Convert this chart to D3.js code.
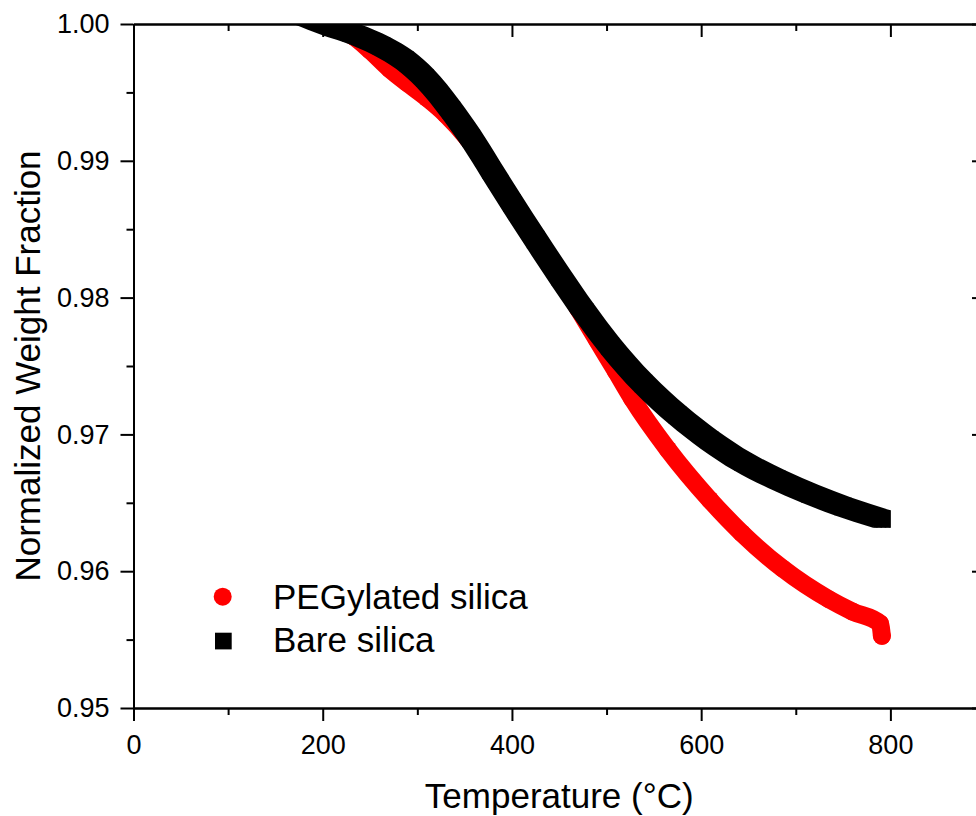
<!DOCTYPE html>
<html>
<head>
<meta charset="utf-8">
<script src="https://cdn.jsdelivr.net/npm/d3@7.9.0/dist/d3.min.js"></script>
<style>
  body { margin: 0; background: #fff; }
  svg { display: block; font-family: "Liberation Sans", Arial, sans-serif; }
  .axis path, .axis line { stroke: #000; stroke-width: 2; }
  .axis text { font-size: 27px; fill: #000; }
</style>
</head>
<body>
<svg id="chart" width="976" height="816"></svg>
<script>
// Temperature (°C) and normalized weight
const tempPeg = [150, 180, 210, 232, 250, 271, 290, 310, 330, 353, 370, 385, 400, 425, 450, 470, 490, 510, 527, 565, 609, 643, 686, 735, 760, 789, 791];
const weightPeg = [1.0012, 1.0006, 0.99985, 0.99912, 0.99808, 0.9967, 0.99565, 0.9946, 0.9934, 0.99164, 0.99008, 0.9886, 0.9869, 0.9842, 0.9815, 0.9792, 0.9769, 0.9746, 0.97262, 0.96888, 0.96523, 0.96278, 0.9602, 0.95795, 0.95705, 0.95618, 0.95528];

const tempBare = [150, 178, 209, 230, 262, 287, 308, 336, 357, 378, 400, 425, 451, 477, 504, 539, 575, 609, 644, 680, 715, 750, 791];
const weightBare = [1.0013, 1.00064, 0.99982, 0.99935, 0.9984, 0.99735, 0.99605, 0.9937, 0.99164, 0.98933, 0.98691, 0.98424, 0.98153, 0.97893, 0.97645, 0.97372, 0.97141, 0.96958, 0.968, 0.96672, 0.96566, 0.96473, 0.96381];

const xMajor = [0, 200, 400, 600, 800];
const xMinor = [100, 300, 500, 700];
const yMajor = [0.95, 0.96, 0.97, 0.98, 0.99, 1.00];
const yMinor = [0.955, 0.965, 0.975, 0.985, 0.995];

const seriesNames = ['PEGylated silica', 'Bare silica'];

const peg = tempPeg.map((t, i) => ({ t, w: weightPeg[i] }));
const bare = tempBare.map((t, i) => ({ t, w: weightBare[i] }));

const svg = d3.select('#chart');

// plot box
const plotLeft = 133.5, plotRight = 985, plotTop = 24, plotBottom = 708;
const x = d3.scaleLinear().domain([0, 900]).range([plotLeft, plotRight]);
const y = d3.scaleLinear().domain([0.95, 1.0]).range([plotBottom, plotTop]);

svg.append('clipPath').attr('id', 'plot-clip')
  .append('rect')
  .attr('x', plotLeft).attr('y', plotTop)
  .attr('width', plotRight - plotLeft).attr('height', plotBottom - plotTop);

const plot = svg.append('g').attr('clip-path', 'url(#plot-clip)');

// 1) PEGylated silica: dense red circles -> thick round line
const markR = 9;
const line = d3.line()
  .x(d => x(d.t))
  .y(d => y(d.w))
  .curve(d3.curveMonotoneX);

plot.append('path')
  .datum(peg)
  .attr('d', line)
  .attr('fill', 'none')
  .attr('stroke', '#ff0000')
  .attr('stroke-width', markR * 2)
  .attr('stroke-linecap', 'round')
  .attr('stroke-linejoin', 'round');

plot.selectAll('circle.peg')
  .data(peg)
  .join('circle')
  .attr('class', 'peg')
  .attr('cx', d => x(d.t))
  .attr('cy', d => y(d.w))
  .attr('r', markR)
  .attr('fill', '#ff0000');

// 2) Bare silica: dense black squares -> square swept along the curve
const half = 8.75;
const band = d3.area()
  .x(d => x(d.t))
  .y0(d => y(d.w) + half)
  .y1(d => y(d.w) - half)
  .curve(d3.curveMonotoneX);

[-half, -half / 2, 0, half / 2, half].forEach(dx => {
  plot.append('path')
    .datum(bare)
    .attr('d', band)
    .attr('transform', `translate(${dx},0)`)
    .attr('fill', '#000');
});

plot.selectAll('rect.bare')
  .data(bare)
  .join('rect')
  .attr('class', 'bare')
  .attr('x', d => x(d.t) - half)
  .attr('y', d => y(d.w) - half)
  .attr('width', half * 2)
  .attr('height', half * 2)
  .attr('fill', '#000');

// 3) Axes - outward ticks bottom/left, inward mirror ticks top/right
function drawAxis(axis, tx, ty) {
  return svg.append('g')
    .attr('class', 'axis')
    .attr('transform', `translate(${tx},${ty})`)
    .call(axis);
}

drawAxis(d3.axisBottom(x).tickValues(xMajor).tickSize(13).tickSizeOuter(0).tickPadding(14).tickFormat(d3.format('d')), 0, plotBottom);
drawAxis(d3.axisBottom(x).tickValues(xMinor).tickSize(7).tickSizeOuter(0).tickFormat(''), 0, plotBottom);
drawAxis(d3.axisLeft(y).tickValues(yMajor).tickSize(13).tickSizeOuter(0).tickPadding(11).tickFormat(d3.format('.2f')), plotLeft, 0);
drawAxis(d3.axisLeft(y).tickValues(yMinor).tickSize(7).tickSizeOuter(0).tickFormat(''), plotLeft, 0);

drawAxis(d3.axisTop(x).tickValues(xMajor).tickSize(-13).tickSizeOuter(0).tickFormat(''), 0, plotTop);
drawAxis(d3.axisTop(x).tickValues(xMinor).tickSize(-7).tickSizeOuter(0).tickFormat(''), 0, plotTop);
drawAxis(d3.axisRight(y).tickValues(yMajor).tickSize(-13).tickSizeOuter(0).tickFormat(''), plotRight, 0);
drawAxis(d3.axisRight(y).tickValues(yMinor).tickSize(-7).tickSizeOuter(0).tickFormat(''), plotRight, 0);

// axis titles
svg.append('text')
  .attr('x', (plotLeft + plotRight) / 2)
  .attr('y', 808)
  .attr('text-anchor', 'middle')
  .attr('font-size', 35)
  .text('Temperature (°C)');

svg.append('text')
  .attr('transform', `translate(40,${(plotTop + plotBottom) / 2}) rotate(-90)`)
  .attr('text-anchor', 'middle')
  .attr('font-size', 35)
  .text('Normalized Weight Fraction');

// 4) Legend
const legend = svg.append('g');
legend.append('circle')
  .attr('cx', 222.7).attr('cy', 596.7).attr('r', markR)
  .attr('fill', '#ff0000');
legend.append('rect')
  .attr('x', 215).attr('y', 632.7).attr('width', 16.7).attr('height', 16.7)
  .attr('fill', '#000');
legend.selectAll('text')
  .data(seriesNames)
  .join('text')
  .attr('x', 273)
  .attr('y', (d, i) => 608.5 + i * 43.7)
  .attr('font-size', 35)
  .text(d => d);
</script>
</body>
</html>
